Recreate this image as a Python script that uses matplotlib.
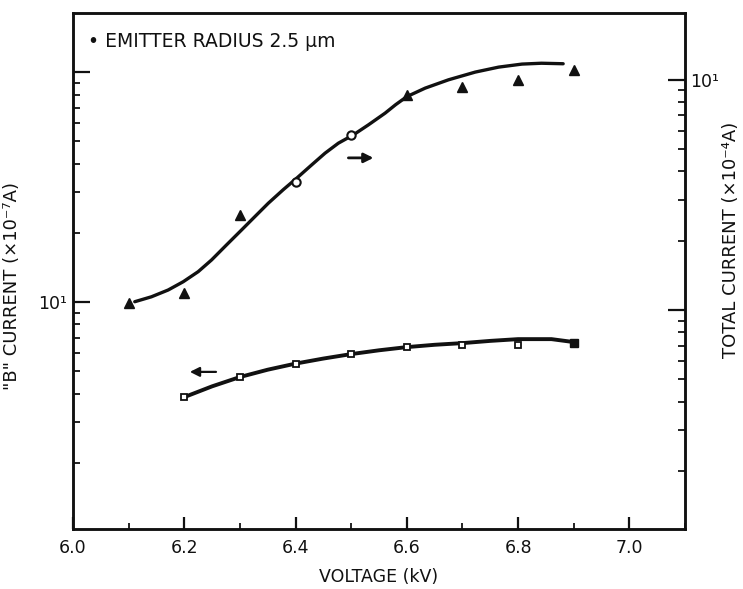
import numpy as np
import matplotlib
matplotlib.use("Agg")
import matplotlib.pyplot as plt
from matplotlib.ticker import LogLocator, NullFormatter, FuncFormatter, MultipleLocator

# total current, right axis (x10^-4 A)
volt_total = [6.1, 6.2, 6.3, 6.4, 6.5, 6.6, 6.7, 6.8, 6.9]
total_cur = [1.07, 1.19, 2.59, 3.60, 5.77, 8.61, 9.32, 10.0, 11.05]
open_total = [3, 4]  # indices drawn as open circles

# hand-drawn fit through the total current points
fit_total_v = [6.111, 6.141, 6.171, 6.198, 6.225, 6.249, 6.276, 6.303, 6.327,
               6.351, 6.378, 6.402, 6.429, 6.453, 6.477, 6.504, 6.531, 6.561,
               6.58, 6.6, 6.633, 6.675, 6.723, 6.765, 6.807, 6.842, 6.881]
fit_total_c = [1.087, 1.142, 1.222, 1.327, 1.468, 1.650, 1.919, 2.228, 2.547,
               2.910, 3.334, 3.737, 4.270, 4.800, 5.306, 5.767, 6.373, 7.165,
               7.80, 8.45, 9.20, 10.0, 10.8, 11.35, 11.7, 11.8, 11.74]

# "B" current, left axis (x10^-7 A)
volt_b = [6.2, 6.3, 6.4, 6.5, 6.6, 6.7, 6.8, 6.9]
b_cur = [3.86, 4.72, 5.40, 5.94, 6.37, 6.50, 6.50, 6.63]

fit_b_v = [6.2, 6.25, 6.3, 6.35, 6.4, 6.45, 6.5, 6.55, 6.6, 6.65, 6.7, 6.75,
           6.8, 6.86, 6.9]
fit_b_c = [3.86, 4.30, 4.72, 5.08, 5.40, 5.68, 5.94, 6.17, 6.37, 6.52, 6.63,
           6.78, 6.90, 6.90, 6.70]

x_ticks = [6.0, 6.2, 6.4, 6.6, 6.8, 7.0]
x_ticklabels = ["6.0", "6.2", "6.4", "6.6", "6.8", "7.0"]

W, H = 743, 589
fig = plt.figure(figsize=(W / 100, H / 100), dpi=100)
L, R, T, B = 73, 685, 13, 529
ax = fig.add_axes([L / W, 1 - B / H, (R - L) / W, (B - T) / H])
ax2 = ax.twinx()

ink = "#111111"
fs = 12.5

ax.set_xlim(6.0, 7.1)
ax.set_yscale("log")
ax.set_ylim(1.03, 181)
ax2.set_yscale("log")
ax2.set_ylim(0.112, 19.5)


def only_ten(v, pos):
    return "10\u00b9" if abs(v - 10) < 1e-6 else ""


for a in (ax, ax2):
    a.yaxis.set_major_locator(LogLocator(base=10))
    a.yaxis.set_minor_locator(LogLocator(base=10, subs=np.arange(2, 10)))
    a.yaxis.set_major_formatter(FuncFormatter(only_ten))
    a.yaxis.set_minor_formatter(NullFormatter())
    a.tick_params(axis="y", which="major", direction="in", length=12, width=1.6,
                  labelsize=fs, colors=ink, pad=4)
    a.tick_params(axis="y", which="minor", direction="in", length=5, width=1.2)
    for s in a.spines.values():
        s.set_linewidth(1.8)
        s.set_color(ink)

ax.set_xticks(x_ticks)
ax.set_xticklabels(x_ticklabels)
ax.xaxis.set_minor_locator(MultipleLocator(0.1))
ax.tick_params(axis="x", which="major", direction="in", length=9, width=1.6,
               labelsize=fs, colors=ink, pad=7)
ax.tick_params(axis="x", which="minor", direction="in", length=4, width=1.2)

# total current curve and points (right axis)
ax2.plot(fit_total_v, fit_total_c, "-", color=ink, lw=2.4, solid_capstyle="round",
         solid_joinstyle="round")
filled = [i for i in range(len(volt_total)) if i not in open_total]
ax2.plot([volt_total[i] for i in filled], [total_cur[i] for i in filled], "^",
         color=ink, ms=7, ls="none")
ax2.plot([volt_total[i] for i in open_total], [total_cur[i] for i in open_total], "o",
         mfc="white", mec=ink, mew=1.5, ms=6, ls="none")

# "B" current curve and points (left axis)
ax.plot(fit_b_v, fit_b_c, "-", color=ink, lw=2.8, solid_capstyle="butt",
        solid_joinstyle="round")
ax.plot(volt_b[:-1], b_cur[:-1], "s", mfc="white", mec=ink, mew=1.3, ms=5, ls="none")
ax.plot(volt_b[-1:], b_cur[-1:], "s", color=ink, ms=6, ls="none")

# direction arrows
ax2.annotate("", xy=(6.545, 4.58), xytext=(6.49, 4.58),
             arrowprops=dict(arrowstyle="-|>", color=ink, lw=2.0, mutation_scale=14))
ax.annotate("", xy=(6.205, 4.97), xytext=(6.262, 4.97),
            arrowprops=dict(arrowstyle="-|>", color=ink, lw=1.6, mutation_scale=14))

ax.text(0.025, 0.944, "\u2022 EMITTER RADIUS 2.5 \u00b5m", transform=ax.transAxes,
        ha="left", va="center", fontsize=13.5, color=ink)

ax.set_xlabel("VOLTAGE (kV)", fontsize=fs, color=ink, labelpad=8)
ax.set_ylabel("\"B\" CURRENT (\u00d710\u207b\u2077A)", fontsize=13, color=ink)
ax.yaxis.set_label_coords(-0.085, 0.47)
ax2.set_ylabel("TOTAL CURRENT (\u00d710\u207b\u2074A)", fontsize=13, color=ink,
               rotation=90)
ax2.yaxis.set_label_coords(1.06, 0.56)

fig.savefig("out.png", dpi=100)
